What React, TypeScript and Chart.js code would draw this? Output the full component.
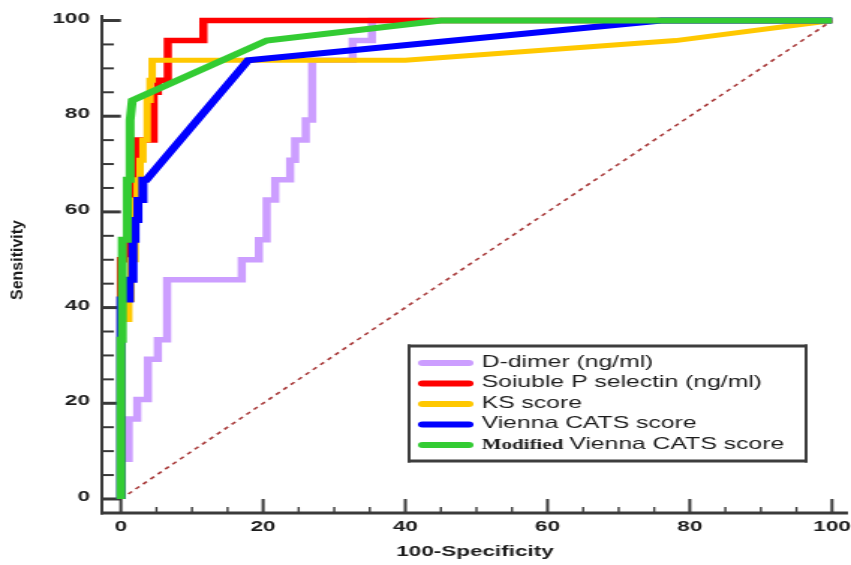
import React, { useEffect, useRef } from "react";
import { Chart, registerables } from "chart.js";

Chart.register(...registerables);

// ---- data -------------------------------------------------------------
const seriesNames = [
  "D-dimer (ng/ml)",
  "Soiuble P selectin (ng/ml)",
  "KS score",
  "Vienna CATS score",
  "Modified Vienna CATS score",
];
const seriesColors = ["#cc9eff", "#ff0000", "#ffc800", "#0000ff", "#33cc33"];
const seriesWidths = [5.5, 5.5, 5, 6, 6];

// 100-Specificity (x) / Sensitivity (y) points of each ROC curve
const dDimerX = [0, 0, 1.1, 1.1, 2.3, 2.3, 3.8, 3.8, 5.2, 5.2, 6.5, 6.5, 17.0, 17.0, 19.4, 19.4, 20.5, 20.5, 21.7, 21.7, 23.8, 23.8, 24.5, 24.5, 26.0, 26.0, 26.9, 26.9, 32.6, 32.6, 35.3, 35.3, 100];
const dDimerY = [0, 8.3, 8.3, 16.7, 16.7, 20.8, 20.8, 29.2, 29.2, 33.3, 33.3, 45.8, 45.8, 50.0, 50.0, 54.2, 54.2, 62.5, 62.5, 66.7, 66.7, 70.8, 70.8, 75.0, 75.0, 79.2, 79.2, 91.7, 91.7, 95.8, 95.8, 100, 100];

const pSelectinX = [0, 0, 1.3, 1.3, 1.8, 1.8, 2.2, 2.2, 4.6, 4.6, 5.2, 5.2, 6.6, 6.6, 11.6, 11.6, 100];
const pSelectinY = [0, 50, 50, 62.5, 62.5, 70.8, 70.8, 75, 75, 85, 85, 87.5, 87.5, 95.8, 95.8, 100, 100];

const ksX = [0, 0, 1.1, 1.1, 1.4, 1.4, 2.0, 2.0, 2.3, 2.3, 2.7, 2.7, 3.1, 3.1, 3.7, 3.7, 4.1, 4.1, 4.4, 4.4, 40, 78, 100];
const ksY = [0, 37.5, 37.5, 41.7, 41.7, 50, 50, 62.5, 62.5, 66.7, 66.7, 70.8, 70.8, 75, 75, 83.3, 83.3, 87.5, 87.5, 91.7, 91.7, 95.8, 100];

const viennaX = [0, 0, 1.2, 1.2, 1.7, 1.7, 2.0, 2.0, 2.4, 2.4, 3.1, 3.1, 3.6, 17.9, 76, 100];
const viennaY = [0, 41.7, 41.7, 45.8, 45.8, 54.2, 54.2, 58.3, 58.3, 62.5, 62.5, 66.7, 66.7, 91.7, 100, 100];

const modViennaX = [0, 0, 0.2, 0.2, 0.9, 0.9, 1.3, 1.3, 1.6, 20.5, 45, 100];
const modViennaY = [0, 33.3, 33.3, 54.2, 54.2, 66.7, 66.7, 79.2, 83.3, 95.8, 100, 100];

const diagonalX = [0, 100];
const diagonalY = [0, 100];

const majorTicks = [0, 20, 40, 60, 80, 100];
const minorTicks = [5, 10, 15, 25, 30, 35, 45, 50, 55, 65, 70, 75, 85, 90, 95];
const xAxisTitle = "100-Specificity";
const yAxisTitle = "Sensitivity";
const legendPrefix = "Modified";

// ---- layout -----------------------------------------------------------
const CANVAS_W = 568;
const CANVAS_H = 565;
const AXIS_COLOR = "#3a3a3a";
const TEXT_COLOR = "#1c1c1c";

const toPoints = (xs: number[], ys: number[]) => xs.map((x, i) => ({ x, y: ys[i] }));

const axesPlugin = {
  id: "rocAxes",
  beforeDatasetsDraw(chart: any) {
    const { ctx, chartArea, scales } = chart;
    const xs = scales.x;
    const ys = scales.y;
    const { left, right, top, bottom } = chartArea;
    ctx.save();
    ctx.fillStyle = AXIS_COLOR;
    // axis lines
    ctx.fillRect(left - 1, top, 2, bottom - top + 1.5);
    ctx.fillRect(left - 1, bottom - 1.5, right - left + 1, 3);
    // inward ticks
    const x0 = xs.getPixelForValue(0);
    const y0 = ys.getPixelForValue(0);
    majorTicks.forEach((v) => {
      const py = ys.getPixelForValue(v);
      ctx.fillRect(left, py - 1.5, x0 - left, 3);
      const px = xs.getPixelForValue(v);
      ctx.fillRect(px - 1, y0, 2, bottom - y0);
    });
    minorTicks.forEach((v) => {
      const py = ys.getPixelForValue(v);
      ctx.fillRect(left, py - 1, 8, 2);
      const px = xs.getPixelForValue(v);
      ctx.fillRect(px - 0.7, bottom - 6, 1.4, 6);
    });
    // tick labels
    ctx.fillStyle = TEXT_COLOR;
    ctx.font = 'bold 15px "Liberation Sans", Arial, sans-serif';
    ctx.textAlign = "right";
    ctx.textBaseline = "middle";
    majorTicks.forEach((v) => {
      ctx.fillText(String(v), left - 8, ys.getPixelForValue(v) - 2);
    });
    ctx.textAlign = "center";
    ctx.textBaseline = "alphabetic";
    majorTicks.forEach((v) => {
      ctx.fillText(String(v), xs.getPixelForValue(v), bottom + 18);
    });
    // axis titles
    ctx.font = 'bold 15px "Liberation Sans", Arial, sans-serif';
    ctx.fillText(xAxisTitle, (left + right) / 2, bottom + 43);
    ctx.save();
    ctx.translate(12, (top + bottom) / 2 - 4);
    ctx.rotate(-Math.PI / 2);
    ctx.scale(1, 0.67);
    ctx.font = 'bold 16px "Liberation Sans", Arial, sans-serif';
    ctx.textAlign = "center";
    ctx.textBaseline = "middle";
    ctx.fillText(yAxisTitle, 0, 0);
    ctx.restore();
    ctx.restore();
  },
};

const legendPlugin = {
  id: "rocLegend",
  afterDatasetsDraw(chart: any) {
    const { ctx } = chart;
    const bx = 273;
    const by = 346;
    const bw = 265;
    const bh = 115;
    ctx.save();
    ctx.fillStyle = "#ffffff";
    ctx.fillRect(bx, by, bw, bh);
    ctx.fillStyle = "#3d3d3d";
    ctx.fillRect(bx - 1, by - 1.5, bw + 2, 3);
    ctx.fillRect(bx - 1, by + bh - 1.5, bw + 2, 3);
    ctx.fillRect(bx - 1, by - 1.5, 2, bh + 3);
    ctx.fillRect(bx + bw - 1, by - 1.5, 2, bh + 3);
    seriesNames.forEach((name, i) => {
      const y = by + 17 + i * 20.5;
      ctx.strokeStyle = seriesColors[i];
      ctx.lineWidth = 6;
      ctx.lineCap = "round";
      ctx.beginPath();
      ctx.moveTo(282, y);
      ctx.lineTo(313, y);
      ctx.stroke();
      ctx.fillStyle = TEXT_COLOR;
      ctx.textAlign = "left";
      ctx.textBaseline = "alphabetic";
      let tx = 321.5;
      let rest = name;
      if (name.startsWith(legendPrefix + " ")) {
        ctx.font = 'bold 14px "Liberation Serif", "Times New Roman", serif';
        ctx.fillText(legendPrefix, tx, y + 3.5);
        tx += ctx.measureText(legendPrefix).width + 4;
        rest = name.slice(legendPrefix.length + 1);
      }
      ctx.font = '16.5px "Liberation Sans", Arial, sans-serif';
      ctx.fillText(rest, tx, y + 3.5);
    });
    ctx.restore();
  },
};

export default function App() {
  const canvasRef = useRef<HTMLCanvasElement>(null);

  useEffect(() => {
    const canvas = canvasRef.current;
    if (!canvas) return;
    const series = [
      [dDimerX, dDimerY],
      [pSelectinX, pSelectinY],
      [ksX, ksY],
      [viennaX, viennaY],
      [modViennaX, modViennaY],
    ];
    const datasets: any[] = series.map(([xs, ys], i) => ({
      label: seriesNames[i],
      data: toPoints(xs, ys),
      showLine: true,
      borderColor: seriesColors[i],
      backgroundColor: seriesColors[i],
      borderWidth: seriesWidths[i],
      pointRadius: 0,
      tension: 0,
      fill: false,
      borderJoinStyle: "miter",
      order: 4 - i,
    }));
    datasets.push({
      label: "reference",
      data: toPoints(diagonalX, diagonalY),
      showLine: true,
      borderColor: "#a83a3a",
      borderWidth: 1.6,
      borderDash: [3.5, 3.5],
      pointRadius: 0,
      fill: false,
      order: 10,
    });

    const chart = new Chart(canvas, {
      type: "scatter",
      data: { datasets },
      options: {
        responsive: false,
        animation: false,
        events: [],
        layout: { padding: { left: 68, right: 2, top: 15, bottom: 52 } },
        scales: {
          x: { type: "linear", min: -2.67, max: 102.25, display: false },
          y: { type: "linear", min: -2.93, max: 101.15, display: false },
        },
        plugins: {
          legend: { display: false },
          tooltip: { enabled: false },
        },
      },
      plugins: [axesPlugin, legendPlugin],
    } as any);
    return () => chart.destroy();
  }, []);

  return (
    <div
      style={{
        position: "absolute",
        left: 0,
        top: 0,
        width: 851,
        height: 565,
        overflow: "hidden",
        background: "#ffffff",
      }}
    >
      <canvas
        ref={canvasRef}
        width={CANVAS_W}
        height={CANVAS_H}
        style={{ width: "851px", height: "565px", display: "block" }}
      />
    </div>
  );
}
